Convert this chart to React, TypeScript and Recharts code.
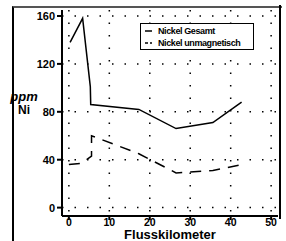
import React from 'react';
import { LineChart, Line, XAxis, YAxis, CartesianGrid } from 'recharts';

const X_TICKS = [0, 10, 20, 30, 40, 50];
const Y_TICKS = [0, 40, 80, 120, 160];

const gesamtKm = [0.3, 3.4, 5.3, 5.4, 17.3, 26.5, 35.6, 42.7];
const gesamtPpm = [138, 158, 101, 86, 82, 66, 71, 88];

const unmagKm = [0, 3.1, 5.6, 5.6, 17.3, 26.5, 35.6, 43];
const unmagPpm = [36, 37, 43, 60, 45, 29, 31, 36];

const gesamt = gesamtKm.map((km, i) => ({ km, ppm: gesamtPpm[i] }));
const unmag = unmagKm.map((km, i) => ({ km, ppm: unmagPpm[i] }));

const FONT = '"Liberation Sans", Arial, sans-serif';
const tickStyle = { fontFamily: FONT, fontSize: 11, fontWeight: 700, fill: '#000' };
const xTickStyle = { ...tickStyle, fontSize: 10.5 };

function LegendBox() {
  const rows = [
    { name: 'Nickel Gesamt', dash: undefined },
    { name: 'Nickel unmagnetisch', dash: '3 2' },
  ];
  return (
    <div style={{ position: 'absolute', left: 140, top: 23, border: '1.5px solid #000', width: 114, height: 27, padding: '1px 0 0 3px', boxSizing: 'border-box', background: '#fff' }}>
      {rows.map(r => (
        <div key={r.name} style={{ display: 'flex', alignItems: 'center', height: 12, fontFamily: FONT, fontSize: 9, fontWeight: 700, letterSpacing: -0.4 }}>
          <svg width={10} height={6} style={{ marginRight: 4 }}>
            <line x1={1} y1={3} x2={8} y2={3} stroke="#000" strokeWidth={1.5} strokeDasharray={r.dash} />
          </svg>
          {r.name}
        </div>
      ))}
    </div>
  );
}

export default function App() {
  return (
    <div style={{ position: 'absolute', left: 0, top: 0, width: 286, height: 241, background: '#fff', overflow: 'hidden' }}>
      <div style={{ position: 'absolute', left: 12, top: 6, width: 268, height: 240, borderLeft: '2px solid #000', borderTop: '2px solid #555' }} />
      <div style={{ position: 'absolute', left: 279, top: 5, width: 0, height: 214, borderLeft: '2px solid #000' }} />
      <LineChart width={286} height={241} margin={{ top: 10, right: 8, bottom: 0, left: 0 }}>
        <CartesianGrid stroke="#000" strokeWidth={1.5} strokeDasharray="1.5 11" horizontalValues={Y_TICKS} verticalValues={X_TICKS} />
        <XAxis
          type="number"
          dataKey="km"
          domain={[-1.7, 51.7]}
          ticks={X_TICKS}
          allowDataOverflow
          height={25}
          tickSize={4}
          tickMargin={-1}
          stroke="#000"
          strokeWidth={2}
          tick={xTickStyle}
        />
        <YAxis
          type="number"
          dataKey="ppm"
          domain={[-7, 165]}
          ticks={Y_TICKS}
          allowDataOverflow
          width={62}
          tickSize={5}
          tickMargin={2}
          stroke="#000"
          strokeWidth={2}
          tick={tickStyle}
        />
        <Line data={gesamt} dataKey="ppm" name="Nickel Gesamt" stroke="#000" strokeWidth={1.5} dot={false} isAnimationActive={false} />
        <Line data={unmag} dataKey="ppm" name="Nickel unmagnetisch" stroke="#000" strokeWidth={1.5} strokeDasharray="11 8" dot={false} isAnimationActive={false} />
      </LineChart>
      <LegendBox />
      <div style={{ position: 'absolute', left: 6, top: 90, width: 36, textAlign: 'center', fontFamily: FONT, fontWeight: 700 }}>
        <div style={{ fontSize: 13, fontStyle: 'italic', lineHeight: '14px' }}>ppm</div>
        <div style={{ fontSize: 12, lineHeight: '13px' }}>Ni</div>
      </div>
      <div style={{ position: 'absolute', left: 62, top: 229, width: 216, textAlign: 'center', fontFamily: FONT, fontSize: 13, fontWeight: 700, lineHeight: '12px' }}>
        Flusskilometer
      </div>
    </div>
  );
}
